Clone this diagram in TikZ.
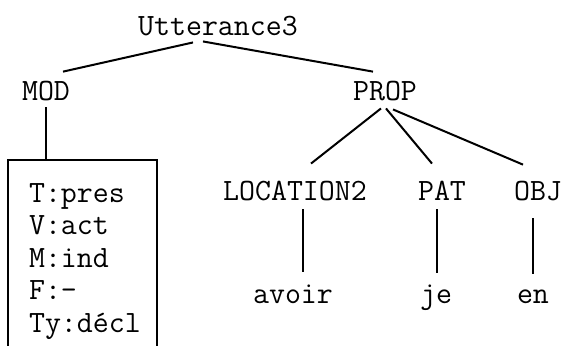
\documentclass[tikz,border=0pt]{standalone}
\usepackage{fontspec}
\usepackage{tikz}
\usetikzlibrary{calc}
\newcommand*{\wMax}{564}
\newcommand*{\hMax}{345}

\begin{document}
\begin{tikzpicture}[x=0.5pt,y=-0.5pt,
		word/.style={font=\ttfamily\fontsize{15.5}{18}\selectfont,anchor=base},
		edge/.style={line width=1pt}]
	\useasboundingbox (0,0) rectangle (\wMax,\hMax);

	% tree nodes
	\node[word] (utt) at (218,35) {Utterance3};
	\node[word] (mod) at (46,100) {MOD};
	\node[word] (prop) at (385,100) {PROP};
	\node[word] (loc) at (295,200) {LOCATION2};
	\node[word] (pat) at (442,200) {PAT};
	\node[word] (obj) at (538,200) {OBJ};
	\node[word] (avoir) at (293,303) {avoir};
	\node[word] (je) at (436,303) {je};
	\node[word] (en) at (533,303) {en};

	% feature box under MOD
	\foreach \t [count=\i] in {T:pres,V:act,M:ind,F:-,Ty:décl} {
		\node[word,anchor=base west] (attr\i) at (22,{202+32.5*(\i-1)}) {\t};
	}
	\coordinate (boxtop) at (46,160);
	\draw[edge] (8,\hMax+10) |- (157,160) -- (157,\hMax+10);

	% connectors
	\draw[edge] ($(utt.south)+(-25,0)$) -- ($(mod.north)+(17,-2)$);
	\draw[edge] ($(utt.south)+(-15,-1)$) -- ($(prop.north)+(-12,-2)$);
	\draw[edge] (mod.south) -- (boxtop);
	\draw[edge] ($(prop.south)+(-4,1)$) -- ($(loc.north)+(16,-10)$);
	\draw[edge] ($(prop.south)+(1,1)$) -- ($(pat.north)+(-10,-10)$);
	\draw[edge] ($(prop.south)+(8,2)$) -- ($(obj.north)+(-15,-9)$);
	\draw[edge] ($(loc.south)+(8,2)$) -- ($(avoir.north)+(10,-5)$);
	\draw[edge] ($(pat.south)+(-5,2)$) -- ($(je.north)+(1,-4)$);
	\draw[edge] ($(obj.south)+(-5,11)$) -- ($(en.north)+(0,-8)$);
\end{tikzpicture}
\end{document}
